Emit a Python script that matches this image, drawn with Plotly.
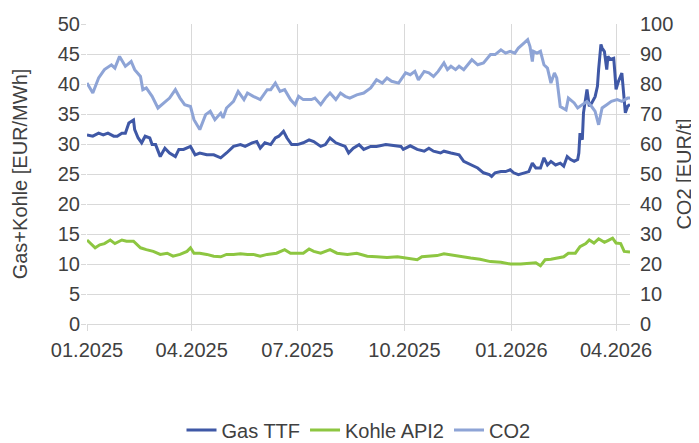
import plotly.graph_objects as go

# ---------------- data ----------------
gas_dates = [
    "2025-01-01", "2025-01-06", "2025-01-11", "2025-01-15", "2025-01-19", "2025-01-24", "2025-01-27", "2025-01-31",
    "2025-02-03", "2025-02-06", "2025-02-10", "2025-02-11", "2025-02-14", "2025-02-17", "2025-02-20", "2025-02-24", "2025-02-26",
    "2025-03-01", "2025-03-05", "2025-03-09", "2025-03-13", "2025-03-18", "2025-03-21", "2025-03-25", "2025-03-31",
    "2025-04-04", "2025-04-08", "2025-04-14", "2025-04-20", "2025-04-26",
    "2025-05-01", "2025-05-07", "2025-05-13", "2025-05-17", "2025-05-23", "2025-05-27", "2025-05-30",
    "2025-06-03", "2025-06-08", "2025-06-12", "2025-06-15", "2025-06-19", "2025-06-22", "2025-06-26",
    "2025-07-01", "2025-07-06", "2025-07-11", "2025-07-15", "2025-07-21", "2025-07-25", "2025-07-29",
    "2025-08-03", "2025-08-07", "2025-08-11", "2025-08-14", "2025-08-18", "2025-08-23", "2025-08-27",
    "2025-09-02", "2025-09-07", "2025-09-15", "2025-09-22", "2025-09-28", "2025-09-30",
    "2025-10-06", "2025-10-12", "2025-10-18", "2025-10-22", "2025-10-26",
    "2025-11-01", "2025-11-04", "2025-11-10", "2025-11-17", "2025-11-21", "2025-11-27",
    "2025-12-03", "2025-12-08", "2025-12-13", "2025-12-15", "2025-12-18", "2025-12-23", "2025-12-27", "2025-12-31",
    "2026-01-03", "2026-01-07", "2026-01-12", "2026-01-16", "2026-01-19", "2026-01-22", "2026-01-26", "2026-01-29",
    "2026-02-01", "2026-02-04", "2026-02-08", "2026-02-12", "2026-02-15", "2026-02-18", "2026-02-21", "2026-02-24", "2026-02-27", "2026-02-28",
    "2026-03-01", "2026-03-03", "2026-03-04", "2026-03-06", "2026-03-07", "2026-03-09", "2026-03-11", "2026-03-14", "2026-03-16",
    "2026-03-17", "2026-03-19", "2026-03-20", "2026-03-22", "2026-03-24", "2026-03-25", "2026-03-27", "2026-03-30", "2026-03-31",
    "2026-04-01", "2026-04-03", "2026-04-06", "2026-04-08", "2026-04-09", "2026-04-11", "2026-04-13",
]
gas_ttf = [
    31.5, 31.3, 31.8, 31.5, 31.8, 31.3, 31.3, 31.8,
    31.8, 33.5, 34.0, 32.4, 31.0, 30.2, 31.3, 31.0, 29.9,
    29.9, 27.9, 29.3, 28.5, 27.9, 29.1, 29.1, 29.6,
    28.2, 28.5, 28.2, 28.2, 27.7,
    28.5, 29.6, 29.9, 29.6, 30.2, 30.4, 29.3,
    30.2, 29.9, 31.0, 31.3, 32.1, 31.0, 29.9,
    29.9, 30.2, 30.7, 30.4, 29.6, 29.9, 31.0,
    30.2, 29.9, 29.6, 28.5, 29.3, 29.9, 29.1,
    29.6, 29.6, 29.9, 29.7, 29.6, 29.1,
    29.7, 29.1, 28.8, 29.3, 28.8,
    28.5, 28.8, 28.5, 28.2, 27.1, 26.5,
    26.0, 25.2, 24.9, 24.6, 25.2, 25.4, 25.4, 25.7,
    25.2, 24.9, 25.2, 25.4, 26.8, 26.0, 26.0, 27.7,
    26.5, 27.1, 26.5, 26.8, 26.3, 27.9, 27.4, 27.1, 27.4, 28.5,
    31.8, 30.7, 35.2, 37.4, 39.1, 36.3, 36.8, 37.9, 39.6,
    42.4, 46.6, 46.0, 45.4, 42.4, 44.6, 44.1, 44.3, 41.8,
    39.1, 40.4, 41.8, 37.4, 35.2, 36.3, 36.6,
]

coal_dates = [
    "2025-01-01", "2025-01-08", "2025-01-12", "2025-01-16", "2025-01-21", "2025-01-25", "2025-01-31",
    "2025-02-04", "2025-02-10", "2025-02-16", "2025-02-21", "2025-02-27",
    "2025-03-05", "2025-03-11", "2025-03-16", "2025-03-22", "2025-03-28", "2025-03-31",
    "2025-04-03", "2025-04-08", "2025-04-14", "2025-04-20", "2025-04-26",
    "2025-05-01", "2025-05-07", "2025-05-13", "2025-05-19", "2025-05-24", "2025-05-30",
    "2025-06-05", "2025-06-13", "2025-06-20", "2025-06-25",
    "2025-07-01", "2025-07-06", "2025-07-11", "2025-07-15", "2025-07-21", "2025-07-25", "2025-07-29",
    "2025-08-04", "2025-08-13", "2025-08-21", "2025-08-30",
    "2025-09-07", "2025-09-16", "2025-09-25",
    "2025-10-03", "2025-10-12", "2025-10-16", "2025-10-23", "2025-10-29",
    "2025-11-04", "2025-11-10", "2025-11-18", "2025-11-27",
    "2025-12-05", "2025-12-14", "2025-12-23", "2025-12-31",
    "2026-01-09", "2026-01-17", "2026-01-22", "2026-01-26", "2026-01-30",
    "2026-02-04", "2026-02-09", "2026-02-15", "2026-02-19", "2026-02-25",
    "2026-03-01", "2026-03-06", "2026-03-09", "2026-03-13", "2026-03-17", "2026-03-22", "2026-03-25", "2026-03-29",
    "2026-04-01", "2026-04-05", "2026-04-08", "2026-04-13",
]
kohle_api2 = [
    14.0, 12.7, 13.2, 13.4, 14.0, 13.4, 14.0,
    13.8, 13.8, 12.7, 12.4, 12.1,
    11.6, 11.8, 11.3, 11.6, 12.1, 12.7,
    11.8, 11.8, 11.6, 11.3, 11.2,
    11.6, 11.6, 11.7, 11.6, 11.6, 11.3,
    11.6, 11.8, 12.4, 11.8,
    11.8, 11.8, 12.5, 12.1, 11.8, 12.1, 12.4,
    11.8, 11.6, 11.8, 11.3,
    11.2, 11.1, 11.2,
    11.0, 10.7, 11.2, 11.3, 11.4,
    11.7, 11.5, 11.3, 11.0,
    10.8, 10.4, 10.3, 10.0,
    10.0, 10.05, 10.2, 9.7, 10.7,
    10.8, 11.0, 11.2, 11.8, 11.8,
    12.9, 13.4, 14.0, 13.5, 14.2, 13.6, 13.9, 14.3,
    13.5, 13.4, 12.1, 12.0,
]

co2_dates = [
    "2025-01-01", "2025-01-06", "2025-01-11", "2025-01-16", "2025-01-22", "2025-01-25", "2025-01-29",
    "2025-02-03", "2025-02-08", "2025-02-11", "2025-02-16", "2025-02-18", "2025-02-21", "2025-02-26",
    "2025-03-03", "2025-03-08", "2025-03-13", "2025-03-18", "2025-03-22", "2025-03-26", "2025-03-31",
    "2025-04-03", "2025-04-08", "2025-04-13", "2025-04-17", "2025-04-21", "2025-04-26", "2025-04-28",
    "2025-05-01", "2025-05-07", "2025-05-11", "2025-05-16", "2025-05-19", "2025-05-24", "2025-05-30",
    "2025-06-05", "2025-06-08", "2025-06-12", "2025-06-16", "2025-06-20", "2025-06-25", "2025-06-29",
    "2025-07-02", "2025-07-06", "2025-07-13", "2025-07-16", "2025-07-21", "2025-07-25", "2025-07-29",
    "2025-08-03", "2025-08-07", "2025-08-11", "2025-08-15", "2025-08-21", "2025-08-27",
    "2025-09-02", "2025-09-07", "2025-09-12", "2025-09-16", "2025-09-20", "2025-09-26",
    "2025-10-02", "2025-10-06", "2025-10-10", "2025-10-13", "2025-10-18", "2025-10-22", "2025-10-26", "2025-10-30",
    "2025-11-04", "2025-11-07", "2025-11-10", "2025-11-14", "2025-11-17", "2025-11-21", "2025-11-28",
    "2025-12-03", "2025-12-08", "2025-12-14", "2025-12-18", "2025-12-23", "2025-12-27", "2025-12-31",
    "2026-01-04", "2026-01-07", "2026-01-12", "2026-01-15", "2026-01-17", "2026-01-19", "2026-01-20", "2026-01-23", "2026-01-26", "2026-01-29",
    "2026-02-01", "2026-02-04", "2026-02-07", "2026-02-09", "2026-02-12", "2026-02-17", "2026-02-19", "2026-02-24", "2026-02-27",
    "2026-03-03", "2026-03-07", "2026-03-11", "2026-03-14", "2026-03-17", "2026-03-20", "2026-03-24", "2026-03-28",
    "2026-04-02", "2026-04-06", "2026-04-11", "2026-04-13",
]
co2 = [
    80.3, 77.0, 82.0, 84.8, 86.4, 85.3, 89.2,
    85.9, 87.5, 84.8, 82.5, 78.1, 78.7, 75.9,
    72.0, 73.7, 75.3, 78.1, 75.3, 73.1, 72.5,
    68.1, 64.8, 69.8, 70.9, 68.1, 70.3, 68.7,
    72.0, 74.2, 77.5, 74.8, 77.0, 75.9, 74.8,
    78.1, 78.1, 80.3, 77.5, 78.1, 74.8, 73.1,
    75.9, 74.8, 74.8, 75.3, 73.1, 75.3, 77.0,
    74.8, 77.0, 75.9, 75.3, 76.4, 77.0,
    78.7, 81.4, 80.3, 82.0, 80.9, 80.3,
    83.7, 83.1, 84.2, 81.4, 84.2, 83.7, 82.5, 84.2,
    87.0, 84.8, 85.9, 84.8, 85.9, 84.8, 88.1,
    86.4, 87.0, 89.8, 89.8, 91.4, 90.3, 90.9,
    90.3, 92.0, 93.7, 94.8, 92.5, 87.5, 90.9, 90.3, 90.9, 86.4,
    85.3, 80.3, 83.7, 82.0, 72.5, 71.4, 75.3, 73.7, 72.0,
    73.1, 74.2, 72.5, 70.9, 66.4, 72.0, 73.1, 74.2,
    74.8, 74.2, 75.3, 75.3,
]

tick_dates = ["2025-01-01", "2025-04-01", "2025-07-01", "2025-10-01", "2026-01-01", "2026-04-01"]
tick_labels = ["01.2025", "04.2025", "07.2025", "10.2025", "01.2026", "04.2026"]

# ---------------- figure ----------------
FONT = "Liberation Sans, Arial, sans-serif"
TXT = "#404040"
GRID = "#D9D9D9"

fig = go.Figure()
fig.add_trace(go.Scatter(x=gas_dates, y=gas_ttf, name="Gas TTF", mode="lines",
                         line=dict(color="#3F58A6", width=3)))
fig.add_trace(go.Scatter(x=coal_dates, y=kohle_api2, name="Kohle API2", mode="lines",
                         line=dict(color="#8DC641", width=3)))
fig.add_trace(go.Scatter(x=co2_dates, y=co2, name="CO2", mode="lines", yaxis="y2",
                         line=dict(color="#8EA4D6", width=3)))

# the page body adds an 8px margin, so the figure is sized to the visible area
fig.update_layout(
    width=691, height=435,
    margin=dict(l=79, r=69, t=16, b=119, autoexpand=False),
    paper_bgcolor="white", plot_bgcolor="white",
    font=dict(family=FONT, size=20, color=TXT),
    showlegend=True,
    legend=dict(orientation="h", xref="paper", x=0.5, xanchor="center",
                yref="container", y=0.03, yanchor="middle",
                itemwidth=30, tracegroupgap=0, entrywidth=0,
                font=dict(family=FONT, size=20, color=TXT), bgcolor="rgba(0,0,0,0)"),
    xaxis=dict(
        type="date", range=["2025-01-01", "2026-04-13"],
        tickmode="array", tickvals=tick_dates, ticktext=tick_labels,
        showgrid=True, gridcolor=GRID, gridwidth=1,
        ticks="outside", ticklen=6, tickcolor=GRID, tickwidth=1,
        showline=True, linecolor=GRID, linewidth=1,
        zeroline=False, automargin=False, ticklabelstandoff=2,
        tickfont=dict(family=FONT, size=20, color=TXT),
    ),
    yaxis=dict(
        range=[0, 50], dtick=5, tick0=0,
        showgrid=True, gridcolor=GRID, gridwidth=1,
        ticks="outside", ticklen=5, tickcolor=GRID,
        zeroline=False, showline=False, automargin=False,
        ticklabelstandoff=-3,
        tickfont=dict(family=FONT, size=20, color=TXT),
        title=dict(text="Gas+Kohle [EUR/MWh]", standoff=24,
                   font=dict(family=FONT, size=20, color=TXT)),
    ),
    yaxis2=dict(
        range=[0, 100], dtick=10, tick0=0, overlaying="y", side="right",
        showgrid=False, zeroline=False, showline=False, automargin=False,
        ticks="outside", ticklen=5, tickcolor="rgba(0,0,0,0)",
        tickfont=dict(family=FONT, size=20, color=TXT),
        title=dict(text="CO2 [EUR/t]", standoff=4,
                   font=dict(family=FONT, size=20, color=TXT)),
    ),
)

fig.write_html("out.html")
